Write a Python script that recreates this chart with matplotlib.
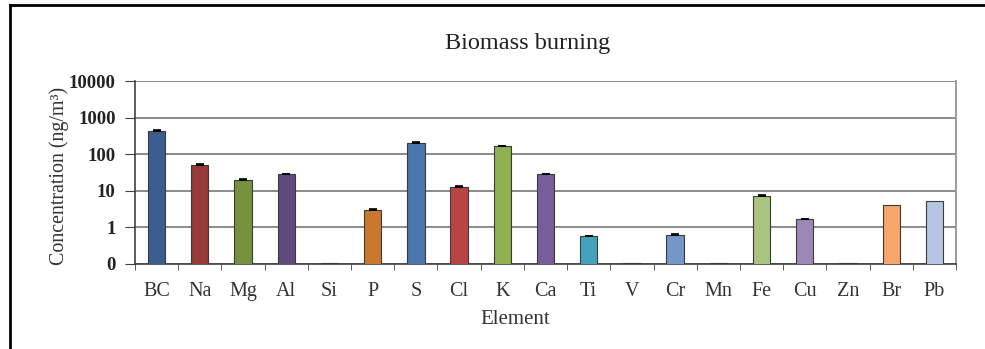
import matplotlib
matplotlib.use("Agg")
import matplotlib.pyplot as plt
from matplotlib.lines import Line2D
import numpy as np

plt.rcParams['font.family'] = ['Liberation Serif', 'DejaVu Serif']

elements = ['BC', 'Na', 'Mg', 'Al', 'Si', 'P', 'S', 'Cl', 'K', 'Ca',
            'Ti', 'V', 'Cr', 'Mn', 'Fe', 'Cu', 'Zn', 'Br', 'Pb']
conc = [430, 52, 19.7, 28, 0.104, 3.05, 202, 12.5, 164, 28,
        0.58, 0.104, 0.63, 0.104, 7.2, 1.66, 0.104, 4.0, 5.2]
err = [20, 2.5, 1.5, 1.2, 0, 0.1, 10, 0.8, 6, 1.0,
       0.02, 0, 0.03, 0, 0.4, 0.08, 0, 0, 0]
colors = ['#3b5e8f', '#963b38', '#76923c', '#5f4a7c', '#31859c', '#c8782f',
          '#4a76b0', '#b94542', '#8fb052', '#775d9a', '#45a2bd', '#f08c3c',
          '#7496c9', '#cf6f6c', '#a9c47f', '#9b88b9', '#66b6cc', '#f6a66a',
          '#b3c5e0']
yticks = [0.1, 1, 10, 100, 1000, 10000]
ytick_labels = ['0', '1', '10', '100', '1000', '10000']

fig = plt.figure(figsize=(9.85, 3.49), dpi=100)
ax = fig.add_axes([135 / 985, 1 - 264 / 349, (956 - 135) / 985, (264 - 81) / 349])

x = np.arange(len(elements))
conc = np.array(conc)
err = np.array(err)
ax.bar(x, conc, width=0.4, bottom=0, color=colors, edgecolor='#3a3a3a',
       linewidth=0.8, zorder=3)
has_err = err > 0
ax.errorbar(x[has_err], conc[has_err], yerr=[np.zeros(has_err.sum()), err[has_err]],
            fmt='none', ecolor='black', elinewidth=0.8, capsize=3, capthick=1.2,
            zorder=4)

ax.set_yscale('log')
ax.set_ylim(0.1, 10000)
ax.set_xlim(-0.5, len(elements) - 0.5)
ax.set_yticks(yticks)
ax.set_yticklabels(ytick_labels, fontsize=13.5, fontweight='bold', color='#222222')
ax.minorticks_off()
ax.yaxis.grid(True, color='#8a8a8a', linewidth=1.4, zorder=0)

ax.set_xticks(x)
ax.set_xticklabels(elements, fontsize=14.5, color='#333333')
ax.tick_params(axis='x', length=0, pad=13)
ax.set_xticks(np.arange(len(elements) + 1) - 0.5, minor=True)
ax.tick_params(axis='x', which='minor', length=4, color='#404040', direction='out')
ax.tick_params(axis='y', length=7, color='#404040', pad=7)

for s in ['left', 'bottom']:
    ax.spines[s].set_color('#404040')
    ax.spines[s].set_linewidth(1.2)
ax.spines['top'].set_visible(False)
ax.spines['right'].set_color('#9a9a9a')
ax.spines['right'].set_linewidth(1.4)

ax.set_ylabel('Concentration (ng/m³)', fontsize=14.4, color='#333333')
ax.yaxis.set_label_coords((59.5 - 135) / 821, (264 - 176) / 183)
ax.set_xlabel('Element', fontsize=15, color='#333333')
ax.xaxis.set_label_coords((515 - 135) / 821, -(320 - 264) / 183)
ax.xaxis.label.set_va('center')
ax.yaxis.label.set_va('center')
fig.text(528 / 985, 1 - 44 / 349, 'Biomass burning', fontsize=17.5,
         ha='center', va='center', color='#222222')

# outer frame
fig.add_artist(Line2D([9.5 / 985, 9.5 / 985], [0, 1 - 4.5 / 349],
                      transform=fig.transFigure, color='black', linewidth=2))
fig.add_artist(Line2D([9.5 / 985, 1], [1 - 4.5 / 349, 1 - 4.5 / 349],
                      transform=fig.transFigure, color='black', linewidth=2))

fig.savefig('out.png', dpi=100)
